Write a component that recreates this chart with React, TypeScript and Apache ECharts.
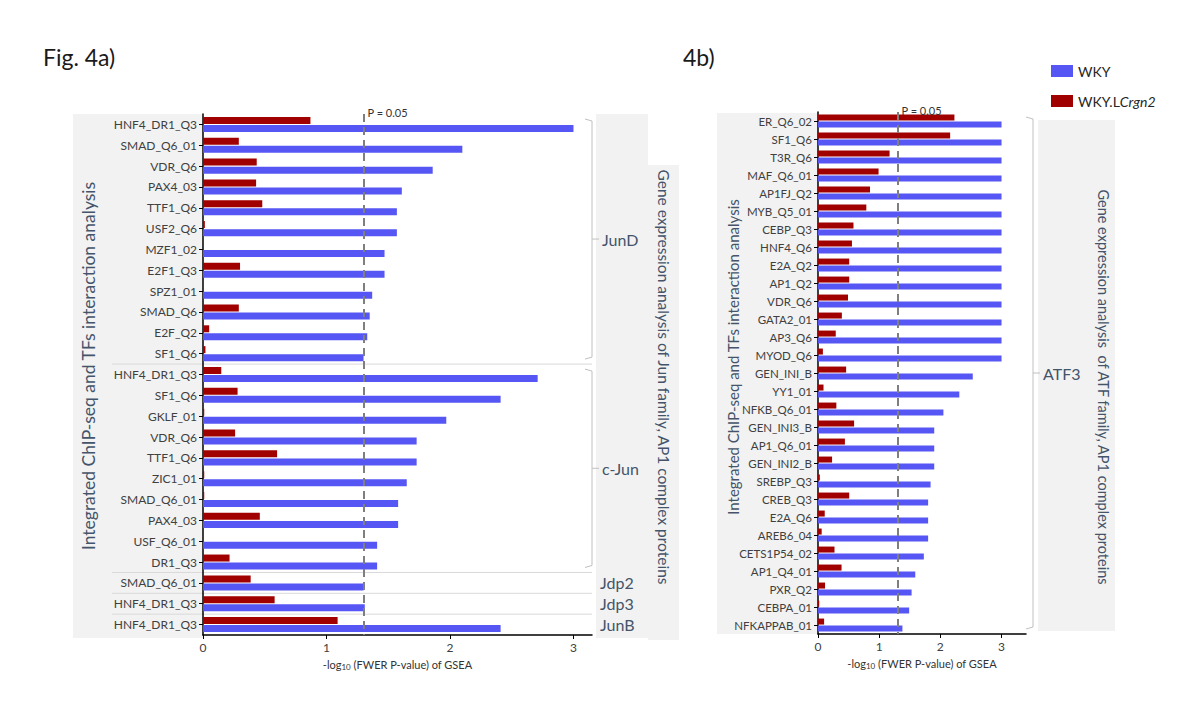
import React, { useEffect, useRef } from 'react';
import * as echarts from 'echarts';

// ---------- data ----------
const leftGroups = ['JunD', 'c-Jun', 'Jdp2', 'Jdp3', 'JunB'];
const leftGroupSizes = [12, 10, 1, 1, 1];
const leftCategories = [
  'HNF4_DR1_Q3', 'SMAD_Q6_01', 'VDR_Q6', 'PAX4_03', 'TTF1_Q6', 'USF2_Q6', 'MZF1_02', 'E2F1_Q3',
  'SPZ1_01', 'SMAD_Q6', 'E2F_Q2', 'SF1_Q6',
  'HNF4_DR1_Q3', 'SF1_Q6', 'GKLF_01', 'VDR_Q6', 'TTF1_Q6', 'ZIC1_01', 'SMAD_Q6_01', 'PAX4_03',
  'USF_Q6_01', 'DR1_Q3',
  'SMAD_Q6_01',
  'HNF4_DR1_Q3',
  'HNF4_DR1_Q3',
];
const leftWKY = [
  3.0, 2.1, 1.86, 1.61, 1.57, 1.57, 1.47, 1.47, 1.37, 1.35, 1.33, 1.3,
  2.71, 2.41, 1.97, 1.73, 1.73, 1.65, 1.58, 1.58, 1.41, 1.41,
  1.3,
  1.31,
  2.41,
];
const leftLCrgn2 = [
  0.87, 0.29, 0.435, 0.43, 0.48, 0.015, 0, 0.3, 0, 0.29, 0.05, 0.02,
  0.148, 0.28, 0.01, 0.26, 0.6, 0.01, 0.01, 0.46, 0, 0.215,
  0.386,
  0.58,
  1.09,
];

const rightGroups = ['ATF3'];
const rightGroupSizes = [29];
const rightCategories = [
  'ER_Q6_02', 'SF1_Q6', 'T3R_Q6', 'MAF_Q6_01', 'AP1FJ_Q2', 'MYB_Q5_01', 'CEBP_Q3', 'HNF4_Q6',
  'E2A_Q2', 'AP1_Q2', 'VDR_Q6', 'GATA2_01', 'AP3_Q6', 'MYOD_Q6', 'GEN_INI_B', 'YY1_01',
  'NFKB_Q6_01', 'GEN_INI3_B', 'AP1_Q6_01', 'GEN_INI2_B', 'SREBP_Q3', 'CREB_Q3', 'E2A_Q6',
  'AREB6_04', 'CETS1P54_02', 'AP1_Q4_01', 'PXR_Q2', 'CEBPA_01', 'NFKAPPAB_01',
];
const rightWKY = [
  3, 3, 3, 3, 3, 3, 3, 3, 3, 3, 3, 3, 3, 3,
  2.53, 2.31, 2.05, 1.9, 1.9, 1.9, 1.84, 1.8, 1.8, 1.8, 1.73, 1.59, 1.53, 1.49, 1.38,
];
const rightLCrgn2 = [
  2.23, 2.16, 1.17, 0.99, 0.85, 0.79, 0.58, 0.555, 0.51, 0.51, 0.49, 0.39, 0.29, 0.08,
  0.46, 0.09, 0.3, 0.59, 0.44, 0.23, 0.03, 0.51, 0.11, 0.06, 0.27, 0.385, 0.115, 0.02, 0.1,
];

const xTicks = [0, 1, 2, 3];
const pThreshold = 1.301; // -log10(0.05)
const pLabel = 'P = 0.05';
const seriesNames = ['WKY', 'WKY.LCrgn2'];

// ---------- styles ----------
const FONT = 'Lato, "Noto Sans", sans-serif';
const BLUE = '#5656f4';
const RED = '#a00000';
const GREY_BG = '#f2f2f2';
const LABEL_BLUE = '#44546a';
const BRACKET = '#c0c0c0';

function xAxisCfg(gridIndex: number, max: number) {
  return {
    type: 'value',
    gridIndex,
    min: 0,
    max,
    splitLine: { show: false },
    axisLine: { show: true, lineStyle: { color: '#000', width: 1.5 } },
    axisTick: { show: true, length: 4, customValues: xTicks, lineStyle: { color: '#000' } },
    axisLabel: { customValues: xTicks, color: '#404040', fontSize: 12, fontFamily: FONT, margin: 6 },
    name: '-log{s|10} (FWER P-value) of GSEA',
    nameLocation: 'middle',
    nameGap: 22,
    nameTextStyle: {
      color: '#333',
      fontSize: 11,
      fontFamily: FONT,
      rich: { s: { fontSize: 8, verticalAlign: 'bottom', padding: [6, 0, 0, 0], fontFamily: FONT, color: '#333' } },
    },
  };
}

function yAxisCfg(gridIndex: number, data: string[], fontSize: number) {
  return {
    type: 'category',
    gridIndex,
    data,
    inverse: true,
    axisLine: { show: true, lineStyle: { color: '#000', width: 1.5 } },
    axisTick: { show: true, alignWithLabel: true, length: 4, lineStyle: { color: '#000' } },
    axisLabel: { color: '#404040', fontSize, fontFamily: FONT, margin: 6, interval: 0 },
    splitLine: { show: false },
  };
}

function barSeries(name: string, data: number[], idx: number, color: string, barWidth: number, mark: boolean) {
  const s: any = {
    type: 'bar',
    name,
    data,
    xAxisIndex: idx,
    yAxisIndex: idx,
    barWidth,
    barGap: '15%',
    itemStyle: { color },
    z: 3,
  };
  if (mark) {
    s.markLine = {
      silent: true,
      symbol: 'none',
      z: 4,
      lineStyle: { color: '#7f7f7f', width: 2, type: [8, 5] },
      label: {
        show: true,
        position: 'start',
        formatter: pLabel,
        align: 'left',
        verticalAlign: 'middle',
        distance: 2,
        padding: [0, 0, 0, 4],
        color: '#333',
        fontSize: 11,
        fontFamily: FONT,
      },
      data: [{ xAxis: pThreshold }],
    };
  }
  return s;
}

function staticGraphics() {
  return [
    { type: 'text', x: 43, y: 57, style: { text: 'Fig. 4a)', fontSize: 23, fontFamily: FONT, fill: '#1a1a1a', verticalAlign: 'middle' } },
    { type: 'text', x: 683, y: 57, style: { text: '4b)', fontSize: 23, fontFamily: FONT, fill: '#1a1a1a', verticalAlign: 'middle' } },
    // left panel backgrounds
    { type: 'rect', z: -10, shape: { x: 73, y: 114, width: 130, height: 524 }, style: { fill: GREY_BG } },
    { type: 'rect', z: -10, shape: { x: 596, y: 114, width: 52, height: 524 }, style: { fill: GREY_BG } },
    { type: 'rect', z: -10, shape: { x: 648, y: 165, width: 31, height: 475 }, style: { fill: GREY_BG } },
    // right panel backgrounds
    { type: 'rect', z: -10, shape: { x: 717, y: 113, width: 101, height: 521 }, style: { fill: GREY_BG } },
    { type: 'rect', z: -10, shape: { x: 1038, y: 120, width: 77, height: 511 }, style: { fill: GREY_BG } },
    // vertical titles
    {
      type: 'text', x: 88, y: 366, rotation: Math.PI / 2,
      style: { text: 'Integrated ChIP-seq and TFs interaction analysis', fontSize: 17.5, fontFamily: FONT, fill: LABEL_BLUE, align: 'center', verticalAlign: 'middle' },
    },
    {
      type: 'text', x: 664, y: 377, rotation: -Math.PI / 2,
      style: { text: 'Gene expression analysis of Jun family, AP1 complex proteins', fontSize: 15.5, fontFamily: FONT, fill: LABEL_BLUE, align: 'center', verticalAlign: 'middle' },
    },
    {
      type: 'text', x: 733, y: 357, rotation: Math.PI / 2,
      style: { text: 'Integrated ChIP-seq and TFs interaction analysis', fontSize: 15, fontFamily: FONT, fill: LABEL_BLUE, align: 'center', verticalAlign: 'middle' },
    },
    {
      type: 'text', x: 1103, y: 387, rotation: -Math.PI / 2,
      style: { text: 'Gene expression analysis  of ATF family, AP1 complex proteins', fontSize: 14.5, fontFamily: FONT, fill: LABEL_BLUE, align: 'center', verticalAlign: 'middle' },
    },
  ];
}

function groupGraphics(chart: any, axisIdx: number, groups: string[], sizes: number[], sepX: [number, number] | null, bx: number, labelSize: number) {
  const out: any[] = [];
  const py = (i: number) => chart.convertToPixel({ yAxisIndex: axisIdx }, i) as number;
  const half = Math.abs(py(1) - py(0)) / 2;
  let start = 0;
  sizes.forEach((n, g) => {
    const first = start;
    const last = start + n - 1;
    const y0 = py(first);
    const y1 = py(last);
    const mid = (y0 + y1) / 2;
    if (sepX && g > 0) {
      const ys = (py(first - 1) + py(first)) / 2;
      out.push({ type: 'line', z: -5, shape: { x1: sepX[0], y1: ys, x2: sepX[1], y2: ys }, style: { stroke: '#d9d9d9', lineWidth: 1 } });
    }
    if (n > 1) {
      const top = y0 - half + 5;
      const bot = y1 + half - 5;
      out.push({
        type: 'polyline', z: 5,
        shape: { points: [[bx - 7, top], [bx, top + 2], [bx, bot - 2], [bx - 7, bot]] },
        style: { stroke: BRACKET, lineWidth: 1, fill: null },
      });
      out.push({ type: 'line', z: 5, shape: { x1: bx, y1: mid, x2: bx + 7, y2: mid }, style: { stroke: BRACKET, lineWidth: 1 } });
      out.push({ type: 'text', z: 5, x: bx + 10, y: mid, style: { text: groups[g], fontSize: labelSize, fontFamily: FONT, fill: LABEL_BLUE, verticalAlign: 'middle' } });
    } else {
      out.push({ type: 'text', z: 5, x: bx + 8, y: mid, style: { text: groups[g], fontSize: labelSize, fontFamily: FONT, fill: LABEL_BLUE, verticalAlign: 'middle' } });
    }
    start += n;
  });
  return out;
}

export default function App() {
  const ref = useRef<HTMLDivElement>(null);
  useEffect(() => {
    if (!ref.current) return;
    const chart = echarts.init(ref.current, null, { renderer: 'svg' });
    const option: any = {
      animation: false,
      backgroundColor: '#fff',
      textStyle: { fontFamily: FONT },
      legend: {
        data: [seriesNames[0], seriesNames[1]],
        orient: 'vertical',
        left: 1046,
        top: 59,
        itemWidth: 22,
        itemHeight: 12,
        itemGap: 16,
        icon: 'rect',
        formatter: (name: string) => (name === 'WKY.LCrgn2' ? 'WKY.L{i|Crgn2}' : name),
        textStyle: {
          color: '#262626',
          fontSize: 14,
          fontFamily: FONT,
          rich: { i: { fontStyle: 'italic', fontSize: 14, fontFamily: FONT, color: '#262626' } },
        },
      },
      grid: [
        { left: 203, top: 114, width: 389, height: 521, containLabel: false },
        { left: 818, top: 112, width: 208, height: 522, containLabel: false },
      ],
      xAxis: [xAxisCfg(0, 3.15), xAxisCfg(1, 3.4)],
      yAxis: [yAxisCfg(0, leftCategories, 12), yAxisCfg(1, rightCategories, 11.5)],
      series: [
        barSeries(seriesNames[1], leftLCrgn2, 0, RED, 7, false),
        barSeries(seriesNames[0], leftWKY, 0, BLUE, 7, true),
        barSeries(seriesNames[1], rightLCrgn2, 1, RED, 6, false),
        barSeries(seriesNames[0], rightWKY, 1, BLUE, 6, true),
      ],
      graphic: staticGraphics(),
    };
    chart.setOption(option);
    const extra = [
      ...groupGraphics(chart, 0, leftGroups, leftGroupSizes, [112, 592], 592, 16),
      ...groupGraphics(chart, 1, rightGroups, rightGroupSizes, null, 1033, 16),
    ];
    chart.setOption({ graphic: [...staticGraphics(), ...extra] }, { replaceMerge: ['graphic'] });
    return () => chart.dispose();
  }, []);
  return <div ref={ref} style={{ position: 'fixed', left: 0, top: 0, width: 1200, height: 705 }} />;
}
